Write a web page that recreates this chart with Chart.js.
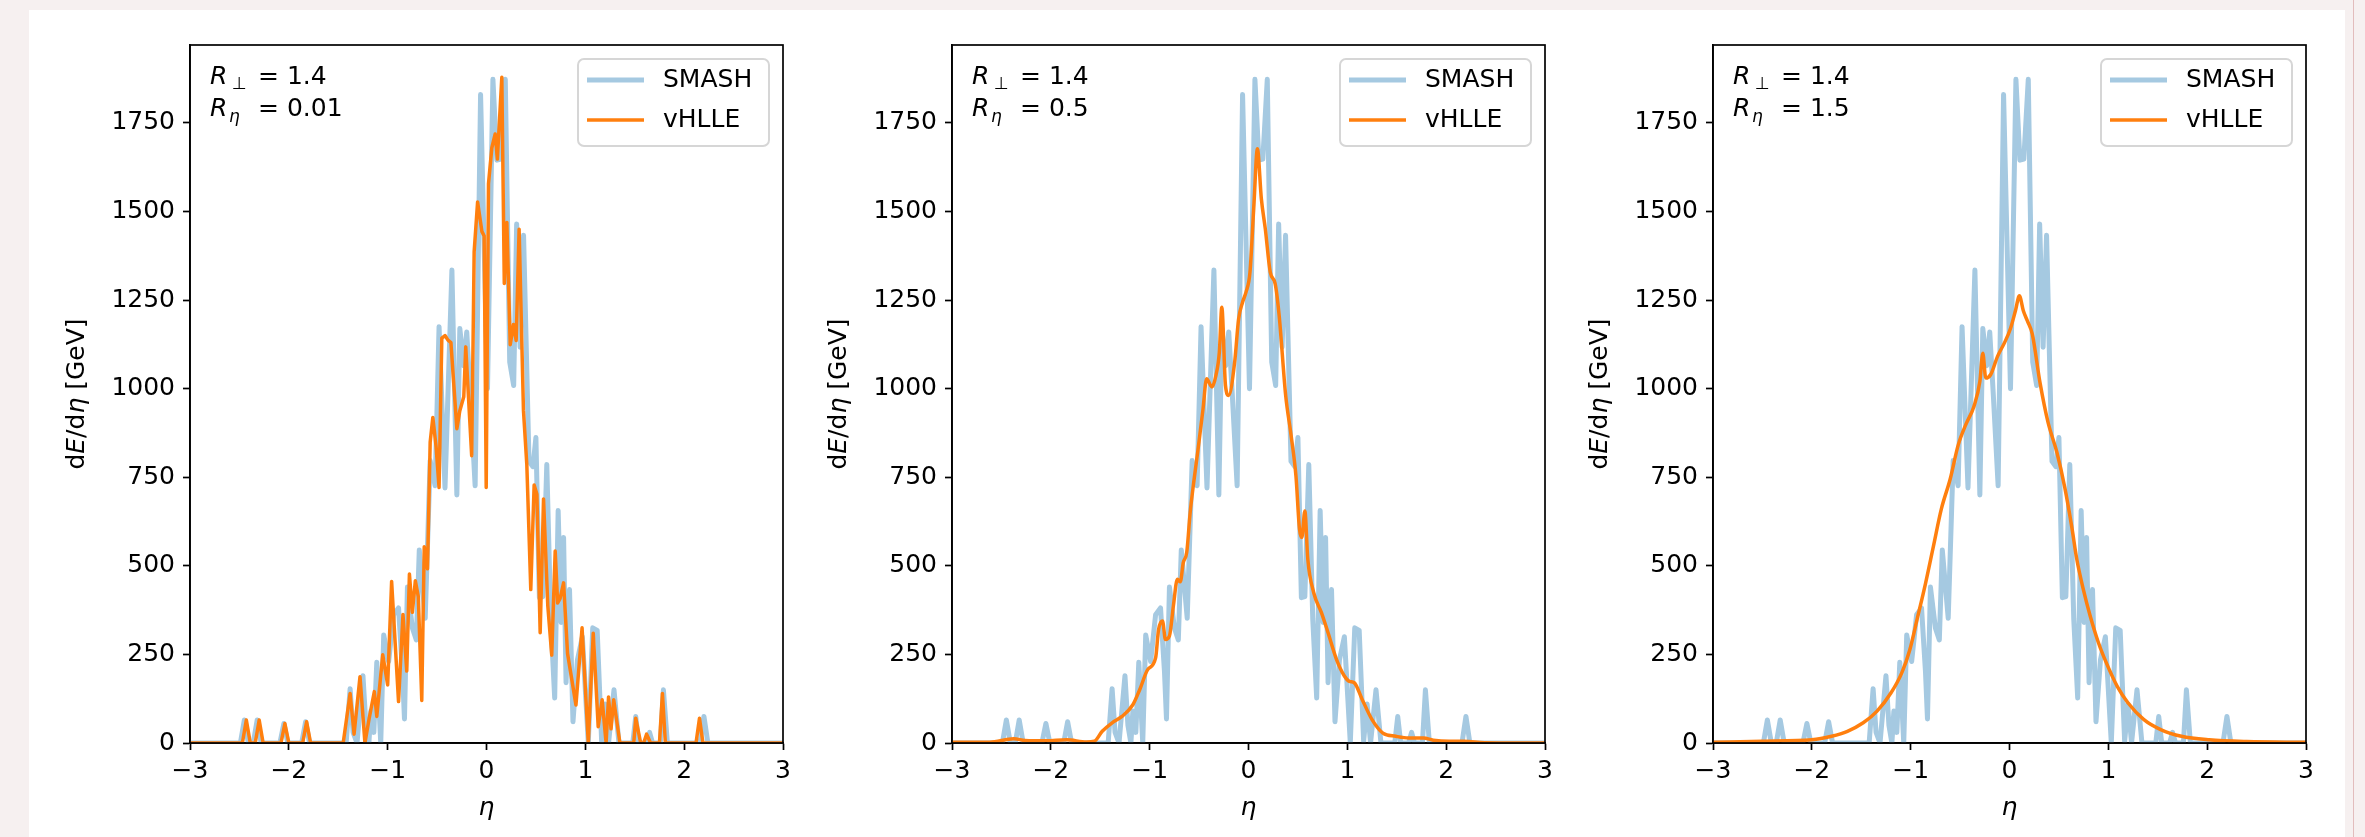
<!DOCTYPE html>
<html>
<head>
<meta charset="utf-8">
<script src="https://cdn.jsdelivr.net/npm/chart.js@4.4.1/dist/chart.umd.min.js"></script>
<style>
html,body{margin:0;padding:0;}
body{width:2365px;height:837px;background:#f6f0f0;position:relative;overflow:hidden;}
#card{position:absolute;left:29px;top:10px;width:2316px;height:827px;background:#fff;}
#edge{position:absolute;left:2353px;top:0;width:1px;height:837px;background:#e2bcbc;}
canvas{position:absolute;top:0;}
</style>
</head>
<body>
<div id="card"></div>
<div id="edge"></div>
<canvas id="c1" width="761" height="837" style="left:30px"></canvas>
<canvas id="c2" width="761" height="837" style="left:792px"></canvas>
<canvas id="c3" width="761" height="837" style="left:1553px"></canvas>
<script>
// SMASH histogram (same in every panel)
const smashEta = [-3.00,-2.49,-2.45,-2.41,-2.36,-2.32,-2.28,-2.09,-2.05,-2.01,-1.87,-1.83,-1.79,-1.42,-1.38,-1.35,-1.31,-1.25,-1.22,-1.19,-1.17,-1.14,-1.11,-1.07,-1.04,-0.99,-0.94,-0.89,-0.85,-0.83,-0.80,-0.75,-0.71,-0.68,-0.62,-0.57,-0.52,-0.48,-0.42,-0.35,-0.30,-0.27,-0.23,-0.20,-0.165,-0.115,-0.06,0.01,0.065,0.105,0.145,0.19,0.235,0.275,0.305,0.34,0.375,0.43,0.47,0.50,0.535,0.57,0.61,0.65,0.69,0.725,0.755,0.78,0.805,0.84,0.875,0.92,0.97,1.03,1.075,1.12,1.165,1.20,1.235,1.29,1.34,1.48,1.51,1.54,1.62,1.65,1.68,1.76,1.79,1.83,2.16,2.20,2.24,3.00];
const smashVal = [0,0,65,0,0,65,0,0,55,0,0,60,0,0,153,30,0,190,50,0,90,30,228,0,305,230,362,381,200,68,440,325,291,545,352,797,726,1175,720,1335,700,1170,1065,1160,989,726,1830,1000,1873,1645,1648,1873,1075,1009,1465,1117,1433,795,780,862,410,413,786,350,127,656,340,580,170,433,60,234,300,0,325,318,5,110,0,150,0,0,75,0,0,30,0,0,150,0,0,75,0,0];

// vHLLE, R_eta = 0.01
const vhlleEta1 = [-3.00,-2.47,-2.43,-2.39,-2.34,-2.30,-2.26,-2.08,-2.04,-2.00,-1.86,-1.82,-1.78,-1.45,-1.38,-1.34,-1.28,-1.23,-1.19,-1.135,-1.11,-1.05,-1.00,-0.96,-0.89,-0.845,-0.807,-0.78,-0.75,-0.72,-0.69,-0.655,-0.63,-0.597,-0.57,-0.543,-0.51,-0.48,-0.452,-0.42,-0.39,-0.36,-0.30,-0.27,-0.23,-0.21,-0.15,-0.125,-0.09,-0.047,-0.024,-0.003,0.02,0.054,0.088,0.11,0.155,0.18,0.206,0.24,0.273,0.30,0.33,0.374,0.408,0.448,0.482,0.51,0.543,0.577,0.62,0.66,0.695,0.72,0.745,0.78,0.82,0.905,0.967,1.03,1.08,1.13,1.17,1.21,1.235,1.26,1.287,1.35,1.49,1.51,1.56,1.59,1.62,1.66,1.75,1.78,1.81,2.12,2.155,2.19,3.00];
const vhlleVal1 = [0,0,65,0,0,65,0,0,55,0,0,60,0,0,140,25,187,0,65,145,75,249,164,456,117,363,203,477,369,458,413,120,554,492,849,919,836,721,1143,1150,1137,1130,887,938,977,1118,811,1386,1527,1444,1431,721,1578,1680,1719,1648,1879,1297,1469,1124,1181,1136,1450,938,785,433,728,702,311,689,388,248,542,395,408,452,253,107,325,0,310,46,122,0,130,40,122,0,0,70,0,0,25,0,0,140,0,0,70,0,0];

// vHLLE, R_eta = 0.5
const vhlleEta2 = [-3.00,-2.62,-2.375,-2.26,-2.05,-1.84,-1.64,-1.56,-1.48,-1.38,-1.28,-1.17,-1.10,-1.02,-0.94,-0.91,-0.87,-0.84,-0.80,-0.76,-0.72,-0.69,-0.66,-0.625,-0.59,-0.55,-0.51,-0.46,-0.424,-0.37,-0.33,-0.295,-0.27,-0.233,-0.20,-0.14,-0.10,-0.06,-0.026,0.015,0.056,0.09,0.13,0.17,0.22,0.27,0.31,0.376,0.43,0.48,0.516,0.54,0.57,0.60,0.66,0.738,0.805,0.89,0.97,1.02,1.07,1.15,1.25,1.36,1.49,1.62,1.77,1.87,2.03,2.18,2.39,3.00];
const vhlleVal2 = [2,2,12,7,6,9,3,5,33,57,75,108,151,207,240,320,344,292,302,387,462,455,509,538,651,745,830,943,1028,1005,1037,1103,1230,1009,981,1075,1197,1244,1272,1329,1526,1677,1536,1451,1329,1296,1207,981,870,754,604,580,655,519,424,368,311,236,189,174,170,123,66,28,19,14,14,8,5,5,1,0];

// vHLLE, R_eta = 1.5
const vhlleEta3 = [-3.00,-2.50,-2.00,-1.80,-1.64,-1.48,-1.34,-1.20,-1.09,-1.01,-0.93,-0.85,-0.77,-0.69,-0.60,-0.52,-0.44,-0.36,-0.30,-0.27,-0.24,-0.19,-0.12,-0.05,0.01,0.06,0.10,0.14,0.18,0.23,0.31,0.39,0.48,0.56,0.63,0.68,0.75,0.815,0.90,0.98,1.09,1.20,1.36,1.53,1.74,2.02,2.40,3.00];
const vhlleVal3 = [2,5,9,19,33,57,90,141,198,262,355,450,555,660,745,840,900,950,1020,1100,1030,1040,1092,1130,1170,1220,1262,1220,1192,1155,1015,905,820,720,610,520,430,360,283,226,160,113,66,38,19,9,4,2];

const xTicks = [-3,-2,-1,0,1,2,3];
const yTicks = [0,250,500,750,1000,1250,1500,1750];
const rPerp = "1.4";
const panels = [
  {id:"c1", rEta:"0.01", eta:vhlleEta1, val:vhlleVal1, smooth:false},
  {id:"c2", rEta:"0.5", eta:vhlleEta2, val:vhlleVal2, smooth:true},
  {id:"c3", rEta:"1.5", eta:vhlleEta3, val:vhlleVal3, smooth:true}
];

const FAM = '"DejaVu Sans"';
const FS = 25;

function runs(ctx, parts, x, y, align){
  let total = 0;
  parts.forEach(p=>{
    ctx.font = (p.it ? "italic " : "") + (p.sz || FS) + "px " + FAM;
    p.w = ctx.measureText(p.t).width;
    total += p.w;
  });
  let cx = align === "center" ? x - total/2 : x;
  parts.forEach(p=>{
    ctx.font = (p.it ? "italic " : "") + (p.sz || FS) + "px " + FAM;
    ctx.fillText(p.t, cx, y + (p.dy || 0));
    cx += p.w;
  });
}

const decor = {
  id:"decor",
  afterDatasetsDraw(chart, args, opts){
    const ctx = chart.ctx, a = chart.chartArea;
    ctx.save();
    ctx.strokeStyle = "#000";
    ctx.lineWidth = 1.7;
    ctx.strokeRect(a.left, a.top, a.right - a.left, a.bottom - a.top);

    ctx.fillStyle = "#000";
    ctx.textBaseline = "middle";
    ctx.textAlign = "left";

    // parameter text
    const x0 = a.left + 20;
    runs(ctx, [{t:"R", it:true}], x0, a.top + 32);
    runs(ctx, [{t:"\u22a5", sz:17, dy:8}], x0 + 22, a.top + 32);
    runs(ctx, [{t:"= " + rPerp}], x0 + 48, a.top + 32);
    runs(ctx, [{t:"R", it:true}], x0, a.top + 64);
    runs(ctx, [{t:"\u03b7", it:true, sz:17, dy:9}], x0 + 19, a.top + 64);
    runs(ctx, [{t:"= " + opts.rEta}], x0 + 48, a.top + 64);

    // legend
    const bx = a.right - 205, by = a.top + 14, bw = 191, bh = 87;
    ctx.beginPath();
    ctx.roundRect(bx, by, bw, bh, 6);
    ctx.fillStyle = "rgba(255,255,255,0.8)";
    ctx.fill();
    ctx.strokeStyle = "#d6d6d6";
    ctx.lineWidth = 2;
    ctx.stroke();
    chart.data.datasets.forEach((ds,i)=>{
      const ly = by + 21 + i*40;
      ctx.beginPath();
      ctx.moveTo(bx + 9, ly);
      ctx.lineTo(bx + 66, ly);
      ctx.strokeStyle = ds.borderColor;
      ctx.lineWidth = ds.borderWidth;
      ctx.stroke();
      ctx.fillStyle = "#000";
      runs(ctx, [{t:ds.label}], bx + 85, ly);
    });

    // axis titles
    runs(ctx, [{t:"\u03b7", it:true}], (a.left + a.right)/2, 808, "center");
    ctx.translate(a.left - 113, (a.top + a.bottom)/2);
    ctx.rotate(-Math.PI/2);
    runs(ctx, [{t:"d"},{t:"E", it:true},{t:"/d"},{t:"\u03b7", it:true},{t:" [GeV]"}], 0, 0, "center");
    ctx.restore();
  }
};

function makeChart(p){
  const smashPts = smashEta.map((e,i)=>({x:e, y:smashVal[i]}));
  const hydroPts = p.eta.map((e,i)=>({x:e, y:p.val[i]}));
  new Chart(document.getElementById(p.id), {
    type:"line",
    data:{datasets:[
      {label:"SMASH", data:smashPts, borderColor:"#a5c9e1", borderWidth:5, pointRadius:0, order:2, borderJoinStyle:"round", tension:0},
      {label:"vHLLE", data:hydroPts, borderColor:"#ff7f0e", borderWidth:3.5, pointRadius:0, order:1, borderJoinStyle:"round",
       cubicInterpolationMode: p.smooth ? "monotone" : "default", tension:0}
    ]},
    options:{
      responsive:false, animation:false, devicePixelRatio:1,
      layout:{padding:{top:45, right:8, left:0, bottom:0}},
      plugins:{legend:{display:false}, tooltip:{enabled:false}, decor:{rEta:p.rEta}},
      scales:{
        x:{
          type:"linear", min:-3, max:3,
          afterBuildTicks(s){ s.ticks = xTicks.map(v=>({value:v})); },
          afterFit(s){ s.height = 94; s.paddingLeft = 0; s.paddingRight = 0; },
          ticks:{color:"#000", padding:6, maxRotation:0, autoSkip:false,
            font:{family:"DejaVu Sans", size:FS},
            callback:v => v < 0 ? "\u2212" + Math.abs(v) : String(v)},
          grid:{drawOnChartArea:false, tickLength:7, tickWidth:1.7, tickColor:"#000"},
          border:{color:"#000", width:1.7}
        },
        y:{
          min:0, max:1970,
          afterBuildTicks(s){ s.ticks = yTicks.map(v=>({value:v})); },
          afterFit(s){ s.width = 160; s.paddingTop = 0; s.paddingBottom = 0; },
          ticks:{color:"#000", padding:8, autoSkip:false,
            font:{family:"DejaVu Sans", size:FS},
            callback:v => String(v)},
          grid:{drawOnChartArea:false, tickLength:7, tickWidth:1.7, tickColor:"#000"},
          border:{color:"#000", width:1.7}
        }
      }
    },
    plugins:[decor]
  });
}

panels.forEach(makeChart);
</script>
</body>
</html>
